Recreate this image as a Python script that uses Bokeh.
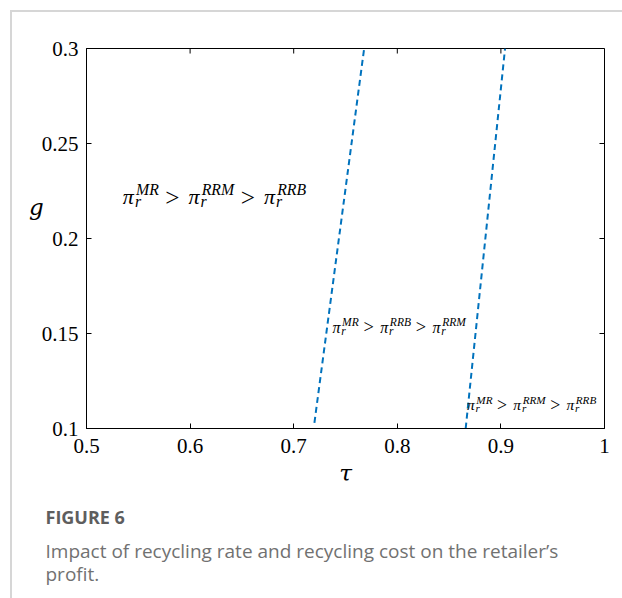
from bokeh.plotting import figure
from bokeh.models import Label, LinearAxis, FixedTicker, Range1d, Title
from bokeh.embed import file_html
from bokeh.resources import INLINE

# ---------------- data ----------------
x_ticks = [0.5, 0.6, 0.7, 0.8, 0.9, 1.0]
x_tick_labels = ["0.5", "0.6", "0.7", "0.8", "0.9", "1"]
y_ticks = [0.1, 0.15, 0.2, 0.25, 0.3]
y_tick_labels = ["0.1", "0.15", "0.2", "0.25", "0.3"]

# boundary curves (tau, g)
boundary1_tau = [0.720, 0.768]
boundary1_g = [0.103, 0.300]
boundary2_tau = [0.866, 0.904]
boundary2_g = [0.100, 0.300]

# region annotations: anchor (tau, g), superscript order
region1_pos = (0.535, 0.2222)
region1_order = ["MR", "RRM", "RRB"]
region2_pos = (0.7374, 0.1534)
region2_order = ["MR", "RRB", "RRM"]
region3_pos = (0.8673, 0.1127)
region3_order = ["MR", "RRM", "RRB"]

x_label = "τ"
y_label = "g"
caption_title = "FIGURE 6"
caption_lines = ["Impact of recycling rate and recycling cost on the retailer\u2019s",
                 "profit."]

# ---------------- layout ----------------
BORDER = 2
W, H = 612, 588            # includes the 2px page rule (border-box)
ML, MR_, MT, MB = 74, 20, 36, 172
FW = W - BORDER - ML - MR_
FH = H - BORDER - MT - MB
X0, X1 = 0.5, 1.0
Y0, Y1 = 0.1, 0.3
kx = (X1 - X0) / FW
ky = (Y1 - Y0) / FH

p = figure(width=W, height=H, output_backend="svg", toolbar_location=None,
           x_range=Range1d(X0, X1), y_range=Range1d(Y0, Y1),
           min_border_left=ML, min_border_right=MR_, min_border_top=MT,
           min_border_bottom=MB, x_axis_location=None, y_axis_location=None,
           margin=(10, 0, 0, 10),
           styles={"border-top": "2px solid #d6d6d6", "border-left": "2px solid #d6d6d6"})
p.grid.visible = False
p.outline_line_color = "black"
p.outline_line_width = 1
p.background_fill_color = "white"
p.border_fill_color = "white"

TICKFONT = "Liberation Serif"
TICKSIZE = "21px"
TICK_LEN = 5


def make_axis(ticks, labels, standoff):
    ax = LinearAxis(ticker=FixedTicker(ticks=ticks))
    ax.major_label_overrides = {t: l for t, l in zip(ticks, labels)}
    ax.major_tick_in = TICK_LEN
    ax.major_tick_out = 0
    ax.minor_tick_line_color = None
    ax.axis_line_color = "black"
    ax.major_tick_line_color = "black"
    ax.major_label_text_font = TICKFONT
    ax.major_label_text_color = "black"
    ax.major_label_text_font_size = TICKSIZE
    ax.major_label_standoff = standoff
    return ax


xax = make_axis(x_ticks, x_tick_labels, 10)
xax.axis_label = x_label
xax.axis_label_text_font = "DejaVu Serif"
xax.axis_label_text_font_style = "italic"
xax.axis_label_text_font_size = "23px"
xax.axis_label_text_color = "black"
xax.axis_label_standoff = 4
p.add_layout(xax, "below")

yax = make_axis(y_ticks, y_tick_labels, 8)
yax.axis_label = y_label + "\n\n"
yax.axis_label_text_font = "DejaVu Serif"
yax.axis_label_text_font_style = "italic"
yax.axis_label_text_font_size = "23px"
yax.axis_label_text_color = "black"
yax.axis_label_standoff = -5
try:
    yax.axis_label_orientation = "horizontal"
except Exception:
    pass
p.add_layout(yax, "left")

# inward ticks on the top and right edges of the box
p.segment(x0=x_ticks, y0=[Y1] * len(x_ticks), x1=x_ticks,
          y1=[Y1 - TICK_LEN * ky] * len(x_ticks), line_color="black", line_width=1)
p.segment(x0=[X1] * len(y_ticks), y0=y_ticks, x1=[X1 - TICK_LEN * kx] * len(y_ticks),
          y1=y_ticks, line_color="black", line_width=1)

BLUE = "#0072BD"
p.line(boundary1_tau, boundary1_g, line_color=BLUE, line_width=2, line_dash="6 4")
p.line(boundary2_tau, boundary2_g, line_color=BLUE, line_width=2, line_dash="6 4")

MATHFONT = "Liberation Serif"
# advance widths (em) of Liberation Serif italic glyphs used
WID = {"π": 0.55, "r": 0.39, "M": 0.83, "R": 0.61, "B": 0.61, ">": 0.564}


def tw(s, size):
    return sum(WID.get(c, 0.6) for c in s) * size


def put(x, y, dx, dy, text, size, italic=True):
    p.add_layout(Label(x=x + dx * kx, y=y + dy * ky, text=text,
                       text_font=MATHFONT, text_font_size=f"{size:.1f}px",
                       text_font_style="italic" if italic else "normal",
                       text_color="black", text_align="left",
                       text_baseline="alphabetic"))


def math_expr(pos, order, s):
    x, y = pos
    ss = s * 0.72
    gs = s * 1.15
    cur = 0.0
    for i, sup in enumerate(order):
        if i > 0:
            cur += 0.26 * s
            put(x, y, cur, -0.02 * s, ">", gs, italic=False)
            cur += tw(">", gs) + 0.4 * s
        put(x, y, cur, 0, "π", s)
        cur += tw("π", s)
        put(x, y, cur, -0.23 * s, "r", ss)
        put(x, y, cur + 0.05 * s, 0.3 * s, sup, ss)
        cur += max(tw("r", ss), tw(sup, ss) + 0.08 * s)


math_expr(region1_pos, region1_order, 22)
math_expr(region2_pos, region2_order, 16)
math_expr(region3_pos, region3_order, 15.5)

# caption below the chart
CAP_OFFSET = 45 - (ML + 12)
t1 = Title(text=caption_title, align="left", offset=CAP_OFFSET, standoff=28,
           text_font="Open Sans", text_font_style="bold", text_font_size="18px",
           text_color="#5e5e5e")
p.add_layout(t1, "below")
for i, line in enumerate(caption_lines):
    p.add_layout(Title(text=line, align="left", offset=CAP_OFFSET,
                       standoff=(-14 if i == 0 else 4),
                       text_font="Open Sans", text_font_style="normal",
                       text_font_size="19px", text_color="#717171"), "below")

open("out.html", "w").write(file_html(p, INLINE))
